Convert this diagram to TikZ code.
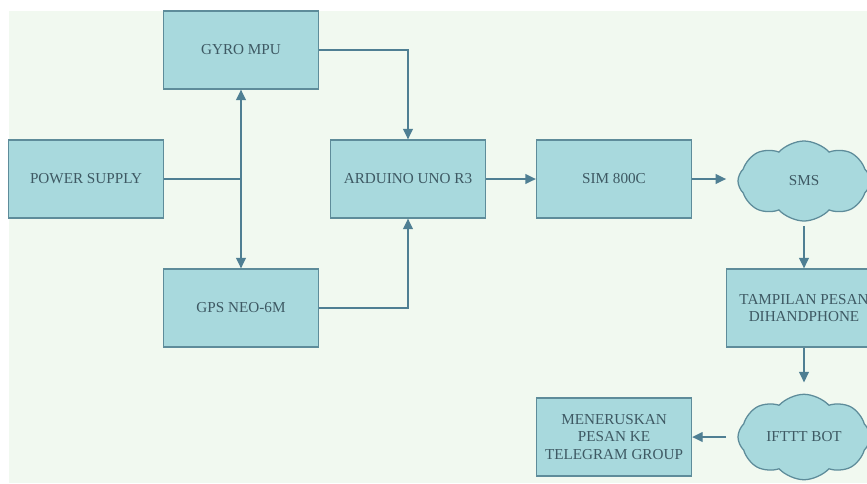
\documentclass[tikz,border=0pt]{standalone}
\usepackage{fontspec}
\setmainfont{Liberation Serif}
\usetikzlibrary{shapes.symbols, positioning, arrows.meta, calc}
\definecolor{boxfill}{HTML}{A8D9DD}
\definecolor{boxline}{HTML}{5E8C9A}
\definecolor{linkcol}{HTML}{4F7F93}
\definecolor{txtcol}{HTML}{3E5963}
\definecolor{paper}{HTML}{F1F9F0}

\begin{document}
\begin{tikzpicture}[
    x=0.025cm, y=-0.025cm,
    >={Triangle[length=7.5pt, width=7pt]},
    block/.style={draw=boxline, fill=boxfill, line width=0.9pt, minimum width=3.875cm, minimum height=1.95cm, align=center, text=txtcol, font=\fontsize{10.8}{12.5}\selectfont},
    msg/.style={cloud, cloud puffs=8, cloud puff arc=95, aspect=1.7, draw=boxline, fill=boxfill, line width=0.9pt, minimum width=3.3cm, minimum height=2cm, align=center, text=txtcol, font=\fontsize{10.8}{12.5}\selectfont},
    link/.style={draw=linkcol, line width=1pt, ->}
]
\useasboundingbox (0,0) rectangle (867,483);
\clip (0,0) rectangle (867,483);
\fill[white] (0,0) rectangle (867,483);
\fill[paper] (9,11) rectangle (867,483);
% blocks
\node[block] (Gyro)    at (241, 50)  {GYRO MPU};
\node[block] (Power)   at (86, 179)  {POWER SUPPLY};
\node[block] (Gps)     at (241, 308) {GPS NEO-6M};
\node[block] (Arduino) at (408, 179) {ARDUINO UNO R3};
\node[block] (Sim)     at (614, 179) {SIM 800C};
\node[msg]   (Sms)     at (804, 181) {SMS};
\node[block] (Tampil)  at (804, 308) {TAMPILAN PESAN\\DIHANDPHONE};
\node[msg]   (Ifttt)   at (804, 437) {IFTTT BOT};
\node[block] (Terus)   at (614, 437) {MENERUSKAN\\PESAN KE\\TELEGRAM GROUP};
\coordinate (Split) at (Gyro.south |- Power.east);
% links
\draw[draw=linkcol, line width=1pt] (Power.east) -- (Split);
\draw[link] (Split) -- (Gyro.south);
\draw[link] (Split) -- (Gps.north);
\draw[link] (Gyro.east) -| (Arduino.north);
\draw[link] (Gps.east) -| (Arduino.south);
\draw[link] (Arduino.east) -- (Sim.west);
\draw[link, shorten >=8pt] (Sim.east) -- (Sim.east -| Sms.west);
\draw[link, shorten <=3pt] (Sms.south) -- (Tampil.north);
\draw[link, shorten >=8pt] (Tampil.south) -- (Ifttt.north);
\draw[link, shorten <=8pt] (Ifttt.west |- Terus.east) -- (Terus.east);
\end{tikzpicture}
\end{document}
